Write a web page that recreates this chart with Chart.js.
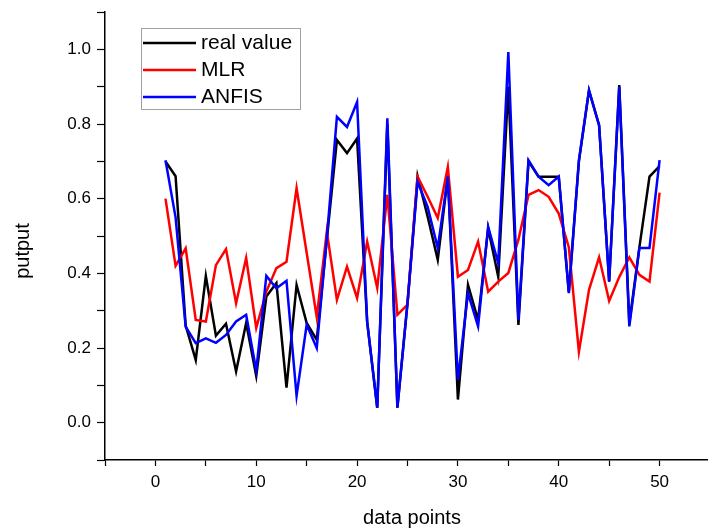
<!DOCTYPE html>
<html>
<head>
<meta charset="utf-8">
<script src="https://cdn.jsdelivr.net/npm/chart.js@4"></script>
<style>
    html, body { margin: 0; padding: 0; background: #fff; overflow: hidden; }
    #wrap { width: 716px; height: 532px; }
</style>
</head>
<body>
<div id="wrap"><canvas id="chart" width="716" height="532"></canvas></div>
<script>
// data point numbers (x axis)
const points = Array.from({ length: 50 }, (_, i) => i + 1);

// series values
const realValue = [0.70, 0.66, 0.26, 0.168, 0.393, 0.233, 0.265, 0.137, 0.267, 0.125,
    0.338, 0.374, 0.094, 0.369, 0.267, 0.222, 0.49, 0.757, 0.722, 0.761,
    0.27, 0.04, 0.80, 0.04, 0.32, 0.66, 0.552, 0.436, 0.66, 0.062,
    0.369, 0.275, 0.521, 0.391, 0.90, 0.262, 0.70, 0.659, 0.659, 0.659,
    0.35, 0.70, 0.89, 0.797, 0.378, 0.904, 0.267, 0.47, 0.659, 0.687];

const mlr = [0.60, 0.42, 0.467, 0.275, 0.271, 0.422, 0.465, 0.32, 0.441, 0.254,
    0.351, 0.414, 0.431, 0.628, 0.455, 0.283, 0.512, 0.329, 0.418, 0.334,
    0.485, 0.361, 0.61, 0.289, 0.316, 0.659, 0.605, 0.548, 0.685, 0.391,
    0.409, 0.485, 0.351, 0.378, 0.401, 0.49, 0.61, 0.623, 0.605, 0.56,
    0.47, 0.19, 0.356, 0.443, 0.326, 0.39, 0.443, 0.396, 0.378, 0.616];

const anfis = [0.703, 0.55, 0.257, 0.213, 0.226, 0.214, 0.235, 0.271, 0.289, 0.14,
    0.393, 0.36, 0.38, 0.072, 0.262, 0.2, 0.495, 0.819, 0.792, 0.859,
    0.27, 0.04, 0.815, 0.04, 0.32, 0.645, 0.578, 0.468, 0.659, 0.115,
    0.347, 0.258, 0.525, 0.427, 0.993, 0.275, 0.703, 0.659, 0.636, 0.659,
    0.347, 0.703, 0.89, 0.797, 0.378, 0.899, 0.258, 0.468, 0.468, 0.703];

const seriesNames = ['real value', 'MLR', 'ANFIS'];
const seriesColors = ['#000000', '#ff0000', '#0000ff'];

const FONT = '"Liberation Sans", Arial, sans-serif';

function toXY(values) {
    return values.map((v, i) => ({ x: points[i], y: v }));
}

// legend box and axis titles drawn by hand (legend sits inside the plot)
const extras = {
    id: 'extras',
    afterDraw(chart) {
        const ctx = chart.ctx;
        ctx.save();

        // legend
        const bx = 141, by = 28;
        ctx.strokeStyle = '#a0a0a0';
        ctx.lineWidth = 1;
        ctx.strokeRect(bx + 0.5, by + 0.5, 159, 81);
        ctx.font = '21px ' + FONT;
        ctx.textBaseline = 'middle';
        ctx.textAlign = 'left';
        seriesNames.forEach((name, i) => {
            const y = by + 15 + i * 27;
            ctx.strokeStyle = seriesColors[i];
            ctx.lineWidth = 2.5;
            ctx.beginPath();
            ctx.moveTo(bx + 2, y);
            ctx.lineTo(bx + 55, y);
            ctx.stroke();
            ctx.fillStyle = '#000';
            ctx.fillText(name, bx + 60, y);
        });

        // axis titles
        ctx.fillStyle = '#000';
        ctx.font = '20px ' + FONT;
        ctx.textAlign = 'center';
        ctx.fillText('data points', 412, 518);
        ctx.translate(23, 251);
        ctx.rotate(-Math.PI / 2);
        ctx.fillText('putput', 0, 0);
        ctx.restore();
    }
};

new Chart(document.getElementById('chart'), {
    type: 'line',
    data: {
        datasets: [
            { label: seriesNames[0], data: toXY(realValue), borderColor: seriesColors[0], order: 2 },
            { label: seriesNames[1], data: toXY(mlr), borderColor: seriesColors[1], order: 1 },
            { label: seriesNames[2], data: toXY(anfis), borderColor: seriesColors[2], order: 0 }
        ]
    },
    options: {
        responsive: false,
        animation: false,
        layout: { padding: { top: 12, right: 2, left: 0, bottom: 0 } },
        elements: {
            line: { borderWidth: 2.5, tension: 0, fill: false },
            point: { radius: 0 }
        },
        plugins: {
            legend: { display: false },
            tooltip: { enabled: false }
        },
        scales: {
            x: {
                type: 'linear',
                min: -5,
                max: 55,
                afterFit(scale) { scale.height = 72; },
                border: { display: true, color: '#000', width: 1.5 },
                grid: { drawOnChartArea: false, drawTicks: true, tickLength: 6, tickColor: '#000', tickWidth: 1.2 },
                ticks: {
                    stepSize: 5,
                    autoSkip: false,
                    maxRotation: 0,
                    padding: 6,
                    color: '#000',
                    font: { family: FONT, size: 17 },
                    callback: v => (v % 10 === 0 ? String(v) : '')
                }
            },
            y: {
                min: -0.1,
                max: 1.1,
                afterFit(scale) {
                    scale.width = 105;
                    scale.paddingTop = 0;
                    scale.paddingBottom = 0;
                },
                border: { display: true, color: '#000', width: 1.5 },
                grid: { drawOnChartArea: false, drawTicks: true, tickLength: 8, tickColor: '#000', tickWidth: 1.2 },
                ticks: {
                    stepSize: 0.1,
                    autoSkip: false,
                    padding: 6,
                    color: '#000',
                    font: { family: FONT, size: 17 },
                    callback: v => {
                        const k = Math.round(v * 10);
                        return k % 2 === 0 ? (k / 10).toFixed(1) : '';
                    }
                }
            }
        }
    },
    plugins: [extras]
});
</script>
</body>
</html>
